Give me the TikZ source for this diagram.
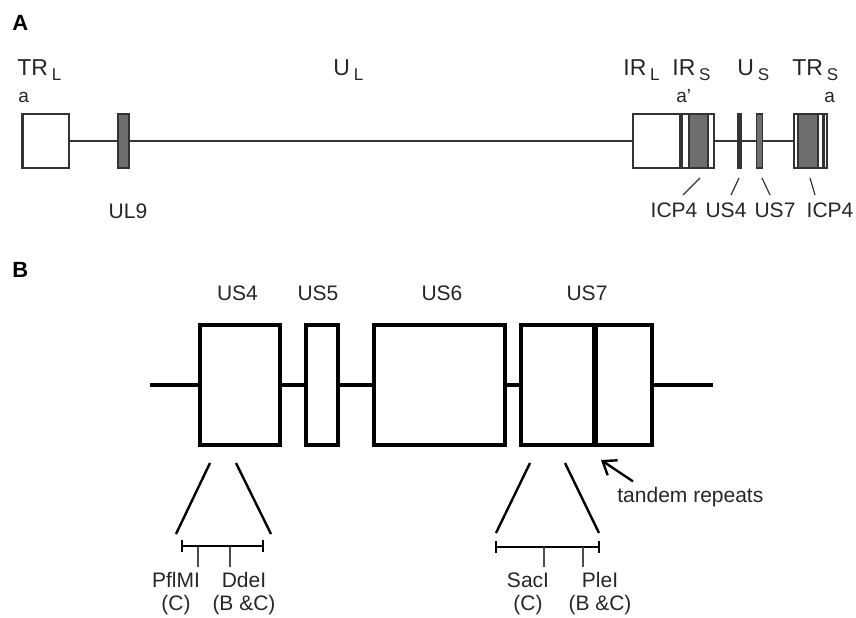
\documentclass[tikz,border=0pt]{standalone}
\usepackage{fontspec}
\setmainfont{Liberation Sans}
\usetikzlibrary{arrows.meta, positioning, calc}
\definecolor{mygray}{HTML}{6E6E6E}
\definecolor{myedge}{HTML}{333333}
\tikzset{
  maplabel/.style={font=\fontsize{10.5}{12}\selectfont, text=black!85, inner sep=0pt},
  toplabel/.style={font=\fontsize{11.5}{13}\selectfont, text=black!85, inner sep=0pt, anchor=base west},
  endlabel/.style={font=\fontsize{9.5}{11}\selectfont, text=black!85, inner sep=0pt, anchor=base west},
  panellabel/.style={font=\fontsize{11}{13}\selectfont\bfseries, inner sep=0pt, anchor=base west},
  repbox/.style={draw=myedge, line width=0.9pt, fill=white, inner sep=0pt, minimum height=27pt},
  genebox/.style={draw=black, line width=2pt, fill=white, inner sep=0pt, minimum height=60pt},
  wedge/.style={line width=1.2pt},
  tick/.style={line width=0.6pt, draw=black!70}
}
\newcommand{\gsub}[1]{\,\raisebox{-2.5pt}{\fontsize{8.5}{10}\selectfont #1}}

\begin{document}
\begin{tikzpicture}[x=0.5pt, y=-0.5pt]
  \useasboundingbox (0,0) rectangle (856,617);
  % ---- panel A: genome map ----
  \node[panellabel] (pa) at (12,30) {A};
  \node[toplabel] (trl) at (17,75) {TR\gsub{L}};
  \node[toplabel] (ul) at (333,75) {U\gsub{L}};
  \node[toplabel] (irl) at (623,75) {IR\gsub{L}};
  \node[toplabel] (irs) at (672,75) {IR\gsub{S}};
  \node[toplabel] (us) at (737,75) {U\gsub{S}};
  \node[toplabel] (trs) at (792,75) {TR\gsub{S}};
  \node[endlabel] (a1) at (18,102) {a};
  \node[endlabel] (a2) at (676,102) {a'};
  \node[endlabel] (a3) at (824,102) {a};

  \node[repbox, minimum width=23pt] (trlbox) at (46,141) {};
  \node[repbox, fill=mygray, minimum width=5.5pt] (ul9) at (123.5,141) {};
  \node[repbox, minimum width=40.5pt] (irbox) at (673.5,141) {};
  \node[repbox, fill=myedge, minimum width=2pt] (us4a) at (739.5,141) {};
  \node[repbox, fill=mygray, minimum width=3pt] (us7a) at (759.5,141) {};
  \node[repbox, minimum width=16.5pt] (trsbox) at (810.5,141) {};
  % inner stripes of the repeats
  \draw[myedge, line width=1.6pt] (trlbox.north west) -- (trlbox.south west);
  \draw[myedge, line width=1.6pt] (681,114) -- (681,168);
  \draw[myedge, line width=0.6pt, fill=mygray] (689,114) rectangle (708,168);
  \draw[myedge, line width=0.6pt, fill=mygray] (798,114) rectangle (818,168);
  \draw[myedge, line width=1.6pt] (823.5,114) -- (823.5,168);
  \draw[myedge, line width=0.9pt] (trlbox.east) -- (ul9.west) (ul9.east) -- (irbox.west)
    (irbox.east) -- (us4a.west) (us4a.east) -- (us7a.west) (us7a.east) -- (trsbox.west);

  \node[maplabel, anchor=base] (ul9l) at (128,218) {UL9};
  \foreach \x/\t/\n in {674/ICP4/icpa, 726/US4/usf, 775/US7/uss, 830/ICP4/icpb}
    \node[maplabel, anchor=base] (\n) at (\x,217) {\t};
  \foreach \a/\b/\c/\d in {700/178/683/195, 739/178/731/195, 762/178/770/195, 810/178/815/195}
    \draw[myedge, line width=0.6pt] (\a,\b) -- (\c,\d);

  % ---- panel B: US4--US7 region ----
  \node[panellabel] (pb) at (12,277) {B};
  \node[genebox, minimum width=40pt] (us4) at (240,385) {};
  \node[genebox, minimum width=16pt] (us5) at (322,385) {};
  \node[genebox, minimum width=65.5pt] (us6) at (439.5,385) {};
  \node[genebox, minimum width=65.5pt] (us7) at (586.5,385) {};
  \draw[line width=3pt] (595,325) -- (595,445);
  \coordinate (lend) at (150,385);
  \coordinate (rend) at (713,385);
  \draw[line width=2pt] (lend) -- (us4.west) (us4.east) -- (us5.west)
    (us5.east) -- (us6.west) (us6.east) -- (us7.west) (us7.east) -- (rend);
  \foreach \x/\t in {237.5/US4, 318/US5, 442/US6, 587/US7}
    \node[maplabel, anchor=base] at (\x,300) {\t};

  % expanded segments
  \draw[wedge] (210,463) -- (176,534) (236,463) -- (271,534);
  \draw[wedge] (530,463) -- (496,533) (565,463) -- (599,533);
  \draw[wedge, {Bar[width=6pt]}-{Bar[width=6pt]}] (181,546) -- (264,546);
  \draw[wedge, {Bar[width=6pt]}-{Bar[width=6pt]}] (495,547) -- (600,547);
  \foreach \x in {198, 230, 544, 583}
    \draw[tick] (\x,547) -- (\x,567);
  \foreach \x/\e/\s in {176/PflMI/(C), 244/DdeI/(B \&C), 528/SacI/(C), 600/PleI/(B \&C)} {
    \node[maplabel, anchor=base] at (\x,587) {\e};
    \node[maplabel, anchor=base] at (\x,610) {\s};
  }
  \node[maplabel, anchor=base west] (tandem) at (617,502) {tandem repeats};
  \coordinate (rep) at (601,460);
  \draw[line width=1.2pt, -{Straight Barb[length=6pt, width=9pt]}]
    ($(tandem.north west)+(16,-5)$) -- (rep);
\end{tikzpicture}
\end{document}
